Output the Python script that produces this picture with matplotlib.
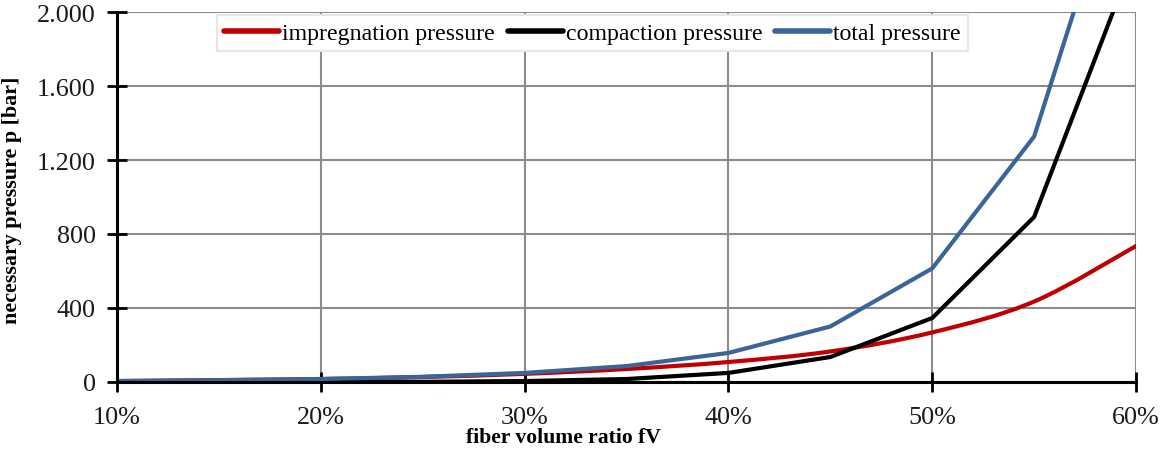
import matplotlib
matplotlib.use("Agg")
import matplotlib.pyplot as plt
import numpy as np
from matplotlib.path import Path
from matplotlib.patches import PathPatch
from matplotlib.lines import Line2D
from matplotlib.ticker import FuncFormatter

# ---- data ----
fiber_ratio = [0.10, 0.15, 0.20, 0.25, 0.30, 0.35, 0.40, 0.45, 0.50, 0.55, 0.60]
impregnation = [5, 10, 16, 27, 44, 70, 108, 165, 268, 435, 735]
compaction = [0, 0, 0, 1, 5, 16, 49, 135, 346, 892, 2323]
total = [5, 10, 16, 28, 49, 86, 157, 300, 614, 1327, 3058]

labels = ["impregnation pressure", "compaction pressure", "total pressure"]
colors = ["#C00000", "#000000", "#3B6598"]
y_ticks = [0, 400, 800, 1200, 1600, 2000]
x_ticks = [0.10, 0.20, 0.30, 0.40, 0.50, 0.60]

plt.rcParams['font.family'] = ['Liberation Serif', 'DejaVu Serif']

fig = plt.figure(figsize=(11.61, 4.52), dpi=100)
ax = fig.add_axes([0.1008, 0.1527, 0.9785 - 0.1008, 0.9712 - 0.1527])

ax.set_xlim(0.10, 0.60)
ax.set_ylim(0, 2000)

# grid
ax.set_axisbelow(True)
ax.grid(True, color="#8c8c8c", linewidth=1.5)


def smooth_path(x, y, tension=1/6):
    """Excel-like smoothed line rendered as cubic Bezier path through the data points."""
    x = np.asarray(x, float)
    y = np.asarray(y, float)
    n = len(x)
    verts = [(x[0], y[0])]
    codes = [Path.MOVETO]
    for i in range(n - 1):
        p0 = (x[max(i - 1, 0)], y[max(i - 1, 0)])
        p1 = (x[i], y[i])
        p2 = (x[i + 1], y[i + 1])
        p3 = (x[min(i + 2, n - 1)], y[min(i + 2, n - 1)])
        c1 = (p1[0] + (p2[0] - p0[0]) * tension, p1[1] + (p2[1] - p0[1]) * tension)
        c2 = (p2[0] - (p3[0] - p1[0]) * tension, p2[1] - (p3[1] - p1[1]) * tension)
        verts += [c1, c2, p2]
        codes += [Path.CURVE4] * 3
    return Path(verts, codes)


patch = PathPatch(smooth_path(fiber_ratio, impregnation), facecolor="none",
                  edgecolor=colors[0], linewidth=3, capstyle="round", joinstyle="round", zorder=3)
ax.add_patch(patch)
ax.plot(fiber_ratio, compaction, color=colors[1], linewidth=3, zorder=4, solid_joinstyle="miter")
ax.plot(fiber_ratio, total, color=colors[2], linewidth=3, zorder=5, solid_joinstyle="miter")

# spines
for s in ["top", "right"]:
    ax.spines[s].set_visible(False)
for s in ["left", "bottom"]:
    ax.spines[s].set_color("black")
    ax.spines[s].set_linewidth(2.2)
    ax.spines[s].set_zorder(6)

ax.set_xticks(x_ticks)
ax.set_yticks(y_ticks)
ax.xaxis.set_major_formatter(FuncFormatter(lambda v, p: f"{round(v*100):d}%"))
ax.yaxis.set_major_formatter(FuncFormatter(lambda v, p: f"{int(v):,}".replace(",", ".")))
ax.tick_params(axis="both", direction="inout", length=15, width=2, color="black",
               labelsize=18.8, labelcolor="#1a1a1a")
ax.tick_params(axis="x", pad=10)
ax.tick_params(axis="y", pad=8)

fig.text((563) / 1161, (452 - 438) / 452, "fiber volume ratio fV", fontsize=15.6,
         fontweight="bold", ha="center", va="center")
fig.text(12 / 1161, (452 - 200) / 452, "necessary pressure p [bar]", fontsize=15.8,
         fontweight="bold", ha="center", va="center", rotation=90)

handles = [Line2D([], [], color=c, linewidth=4, solid_capstyle="round") for c in colors]
leg = ax.legend(handles, labels, ncol=3, loc="upper left", bbox_to_anchor=(0.098, 0.992),
                fontsize=17.2, frameon=True, fancybox=False, framealpha=1,
                edgecolor="#e6e6e6", handlelength=2.3, handletextpad=0.12,
                columnspacing=0.55, borderpad=0.3, borderaxespad=0)
leg.get_frame().set_linewidth(1.5)
leg.set_zorder(10)

fig.savefig("out.png", dpi=100)
